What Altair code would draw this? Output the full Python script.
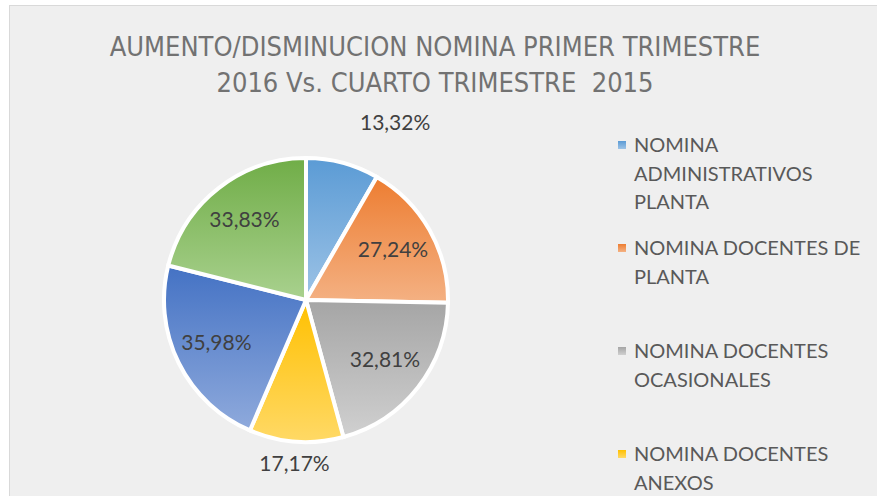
import altair as alt
import pandas as pd

# ---- data -------------------------------------------------------------
categories = [
    "NOMINA ADMINISTRATIVOS PLANTA",
    "NOMINA DOCENTES DE PLANTA",
    "NOMINA DOCENTES OCASIONALES",
    "NOMINA DOCENTES ANEXOS",
    "NOMINA CATEDRATICOS",
    "NOMINA PENSIONADOS",
]
values = [13.32, 27.24, 32.81, 17.17, 35.98, 33.83]

# legend entries visible in the reference (the rest is cut off)
legend_lines = [
    ["NOMINA", "ADMINISTRATIVOS", "PLANTA"],
    ["NOMINA DOCENTES DE", "PLANTA"],
    ["NOMINA DOCENTES", "OCASIONALES"],
    ["NOMINA DOCENTES", "ANEXOS"],
]

title_lines = [
    "AUMENTO/DISMINUCION NOMINA PRIMER TRIMESTRE",
    "2016 Vs. CUARTO TRIMESTRE \u00a02015",
]

# ---- styles -----------------------------------------------------------
colors_top = ["#5B9BD5", "#ED7D31", "#A5A5A5", "#FFC000", "#4472C4", "#70AD47"]
colors_bottom = ["#9DC3E6", "#F4B183", "#D0D0D0", "#FFD966", "#8FAADC", "#A9D18E"]

W, H = 867, 490
CX, CY = 296, 294
R = 142
LABEL_FONT = "Lato"
TITLE_FONT = "Liberation Sans Narrow, DejaVu Sans Condensed, Lato"

df = pd.DataFrame({"idx": list(range(len(categories))),
                   "category": categories, "value": values})
legend_df = pd.DataFrame({"idx": list(range(len(legend_lines))),
                          "lines": legend_lines})
total = float(sum(values))


def gradient(i):
    return {
        "gradient": "linear",
        "x1": 0, "y1": 0, "x2": 0, "y2": 1,
        "stops": [
            {"offset": 0, "color": colors_top[i]},
            {"offset": 1, "color": colors_bottom[i]},
        ],
    }


n = len(categories)
fill_enc = alt.value(
    gradient(n - 1),
    condition=[{"test": f"datum.idx === {i}", "value": gradient(i)} for i in range(n - 1)],
)

theta_scale = alt.Scale(domain=[0, total], nice=False, zero=True)

base = (
    alt.Chart(df)
    .transform_window(cum="sum(value)", frame=[None, 0], sort=[alt.SortField("idx")])
    .transform_calculate(
        start="datum.cum - datum.value",
        mid="datum.cum - datum.value / 2",
        label="replace(format(datum.value, '.2f'), '.', ',') + '%'",
    )
)

arcs = base.mark_arc(outerRadius=R, stroke="white", strokeWidth=4).encode(
    theta=alt.Theta("start:Q", scale=theta_scale),
    theta2="cum:Q",
    fill=fill_enc,
    x=alt.value(CX),
    y=alt.value(CY),
    tooltip=["category:N", "value:Q"],
)

text_common = dict(font=LABEL_FONT, fontSize=21, color="#404040", baseline="middle")

labels_in = base.transform_filter("datum.value >= 20").mark_text(
    radius=100, align="center", **text_common
).encode(
    theta=alt.Theta("mid:Q", scale=theta_scale),
    text="label:N",
    x=alt.value(CX),
    y=alt.value(CY),
)

label_first = base.transform_filter("datum.idx === 0").mark_text(
    radius=182, align="left", dx=7, **text_common
).encode(
    theta=alt.Theta("mid:Q", scale=theta_scale),
    text="label:N",
    x=alt.value(CX),
    y=alt.value(CY),
)

label_small = base.transform_filter("datum.idx === 3").mark_text(
    radius=165, align="center", **text_common
).encode(
    theta=alt.Theta("mid:Q", scale=theta_scale),
    text="label:N",
    x=alt.value(CX),
    y=alt.value(CY),
)

legend_y = alt.Y("idx:Q", scale=alt.Scale(domain=[0, 3], range=[146, 455], nice=False, zero=False), axis=None)

legend_sq = alt.Chart(legend_df).mark_square(size=64, yOffset=-7, opacity=1).encode(
    x=alt.value(612),
    y=legend_y,
    fill=fill_enc,
)

legend_txt = alt.Chart(legend_df).mark_text(
    font=LABEL_FONT, fontSize=20, color="#595959", align="left",
    baseline="alphabetic", lineHeight=28.7,
).encode(
    x=alt.value(624),
    y=legend_y,
    text="lines:N",
)

one = pd.DataFrame({"k": [0]})
title = alt.Chart(one).mark_text(
    text=title_lines, font=TITLE_FONT, fontSize=27, color="#727272",
    align="center", baseline="alphabetic", lineHeight=36,
).encode(x=alt.value(425), y=alt.value(50))

border_left = alt.Chart(one).mark_rule(color="#D9D9D9", strokeWidth=1).encode(
    x=alt.value(-0.5), y=alt.value(-1), y2=alt.value(H)
)
border_top = alt.Chart(one).mark_rule(color="#D9D9D9", strokeWidth=1).encode(
    x=alt.value(-1), x2=alt.value(W), y=alt.value(-0.5)
)

chart = (
    alt.layer(arcs, labels_in, label_first, label_small, legend_sq, legend_txt,
              title, border_left, border_top)
    .properties(
        width=W, height=H,
        autosize=alt.AutoSizeParams(type="none"),
        padding={"left": 10, "top": 6, "right": 0, "bottom": 0},
        background="white",
    )
    .configure_view(fill="#EFEFEF", stroke=None)
)

chart.save("out.html", embed_options={"renderer": "svg", "actions": False})
